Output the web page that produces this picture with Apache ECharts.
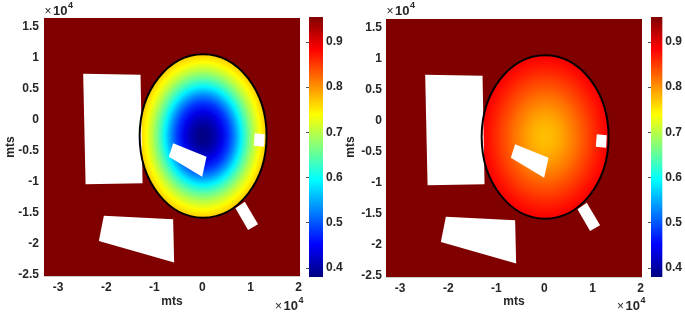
<!DOCTYPE html>
<html><head><meta charset="utf-8">
<script src="https://cdn.jsdelivr.net/npm/echarts@6/dist/echarts.min.js"></script>
<style>html,body{margin:0;padding:0;background:#fff}#c{width:685px;height:314px}</style>
</head><body><div id="c"></div>
<script>
// ---- data (metres) ----
const xLimits = [-32950, 20300];
const yLimits = [-25200, 16450];
const colorLimits = [0.38, 0.955];
const outsideValue = 0.96;
const circleCenter = [150, -2590];
const circleRadius = 13200;
const radialFraction = [0, 0.1, 0.2, 0.3, 0.4, 0.5, 0.6, 0.7, 0.8, 0.9, 1.0];
const leftFieldValues = [0.38, 0.39, 0.41, 0.44, 0.48, 0.53, 0.59, 0.65, 0.70, 0.74, 0.77];
const rightFieldValues = [0.775, 0.778, 0.785, 0.795, 0.808, 0.82, 0.835, 0.848, 0.862, 0.875, 0.888];
const holeA = [[-24800, 7440], [-12870, 7280], [-12450, -10230], [-24300, -10400]];
const holeB = [[-6090, -3770], [850, -5930], [-60, -9170], [-6990, -5930]];
const holeC = [[6880, -14280], [8810, -13210], [11580, -16860], [9500, -17790]];
const holeD = [[-20500, -15470], [-6090, -16050], [-5880, -23010], [-21540, -19560]];
const holeE = [[10890, -2150], [12970, -2310], [12830, -4320], [10690, -4160]];
const holes = [holeA, holeB, holeC, holeD, holeE];
const axisName = 'mts';

// ---- jet colormap ----
function jet(v) {
  const t = Math.min(1, Math.max(0, (v - colorLimits[0]) / (colorLimits[1] - colorLimits[0])));
  const c = k => Math.round(255 * Math.min(1, Math.max(0, 1.5 - Math.abs(4 * t - k))));
  return 'rgb(' + c(3) + ',' + c(2) + ',' + c(1) + ')';
}
const jetStops = [[0, '#000080'], [0.125, '#0000ff'], [0.375, '#00ffff'], [0.625, '#ffff00'], [0.875, '#ff0000'], [1, '#800000']];

const FONT = '"Liberation Sans", Arial, sans-serif';
const TXT = '#262626';
const chart = echarts.init(document.getElementById('c'));

const grids = [
  {left: 44, top: 18, width: 256, height: 258},
  {left: 386, top: 19, width: 256, height: 258},
  {left: 309, top: 17, width: 14, height: 260},
  {left: 651, top: 17, width: 13, height: 260}
];
const lbl = {fontFamily: FONT, fontWeight: 'bold', fontSize: 12, color: TXT};
const xAxes = [], yAxes = [];
for (let p = 0; p < 2; p++) {
  xAxes.push({type: 'value', gridIndex: p, min: xLimits[0], max: xLimits[1], splitNumber: 5,
    axisLine: {show: true, onZero: false, lineStyle: {color: '#c8c8c8'}}, axisTick: {show: false}, splitLine: {show: false},
    axisLabel: Object.assign({margin: 6, showMinLabel: false, showMaxLabel: false, formatter: v => String(+(v / 1e4).toFixed(1))}, lbl)});
  yAxes.push({type: 'value', gridIndex: p, min: yLimits[0], max: yLimits[1], splitNumber: 8,
    axisLine: {show: true, onZero: false, lineStyle: {color: '#c8c8c8'}}, axisTick: {show: false}, splitLine: {show: false},
    axisLabel: Object.assign({margin: p ? 4 : 5, showMinLabel: false, showMaxLabel: false, formatter: v => String(+(v / 1e4).toFixed(1))}, lbl)});
}
for (let p = 0; p < 2; p++) {
  xAxes.push({type: 'value', gridIndex: 2 + p, min: 0, max: 1, show: false});
  yAxes.push({type: 'value', gridIndex: 2 + p, position: 'right', min: colorLimits[0], max: colorLimits[1], splitNumber: 6,
    axisLine: {show: false}, splitLine: {show: false},
    axisTick: {show: true, inside: true, length: 3, lineStyle: {color: '#555'}},
    axisLabel: Object.assign({margin: 3, showMinLabel: false, showMaxLabel: false, formatter: v => v.toFixed(1)}, lbl)});
}

const series = [];
[leftFieldValues, rightFieldValues].forEach((profile, p) => {
  series.push({type: 'custom', xAxisIndex: p, yAxisIndex: p, z: 1, silent: true,
    data: [[xLimits[0], xLimits[1], yLimits[0], yLimits[1], outsideValue]],
    renderItem: (params, api) => {
      const a = api.coord([api.value(0), api.value(3)]);
      const b = api.coord([api.value(1), api.value(2)]);
      return {type: 'rect', shape: {x: a[0], y: a[1], width: b[0] - a[0], height: b[1] - a[1]}, style: {fill: jet(api.value(4))}};
    }});
  series.push({type: 'custom', xAxisIndex: p, yAxisIndex: p, z: 2, silent: true,
    data: [[circleCenter[0], circleCenter[1], circleRadius]],
    renderItem: (params, api) => {
      const c = api.coord([api.value(0), api.value(1)]);
      const s = api.size([api.value(2), api.value(2)]);
      const stops = radialFraction.map((f, i) => ({offset: f, color: jet(profile[i])}));
      return {type: 'circle', x: c[0], y: c[1], scaleY: s[1] / s[0], shape: {cx: 0, cy: 0, r: s[0]},
        style: {fill: new echarts.graphic.RadialGradient(0.5, 0.5, 0.5, stops)}};
    }});
  series.push({type: 'custom', xAxisIndex: p, yAxisIndex: p, z: 3, silent: true,
    data: holes.map((h, i) => [i]),
    renderItem: (params, api) => {
      const pts = holes[params.dataIndex].map(q => api.coord(q));
      return {type: 'polygon', shape: {points: pts}, style: {fill: '#ffffff'}};
    }});
  series.push({type: 'custom', xAxisIndex: p, yAxisIndex: p, z: 4, silent: true,
    data: [[circleCenter[0], circleCenter[1], circleRadius]],
    renderItem: (params, api) => {
      const c = api.coord([api.value(0), api.value(1)]);
      const s = api.size([api.value(2), api.value(2)]);
      return {type: 'ellipse', shape: {cx: c[0], cy: c[1], rx: s[0], ry: s[1]}, style: {fill: 'none', stroke: '#000', lineWidth: 2}};
    }});
  series.push({type: 'custom', xAxisIndex: 2 + p, yAxisIndex: 2 + p, z: 1, silent: true,
    data: [[0, 1, colorLimits[0], colorLimits[1]]],
    renderItem: (params, api) => {
      const a = api.coord([api.value(0), api.value(3)]);
      const b = api.coord([api.value(1), api.value(2)]);
      return {type: 'rect', shape: {x: a[0], y: a[1], width: b[0] - a[0], height: b[1] - a[1]},
        style: {fill: new echarts.graphic.LinearGradient(0, 1, 0, 0, jetStops.map(s => ({offset: s[0], color: s[1]})))}};
    }});
});

function t(x, y, text, size, opts) {
  return Object.assign({type: 'text', x: x, y: y, silent: true,
    style: {text: text, fontFamily: FONT, fontWeight: 'bold', fontSize: size, fill: TXT, align: 'left', verticalAlign: 'middle'}}, opts || {});
}
function expo(x, y) {
  return [t(x, y, '×', 12, {style: {text: '×', fontFamily: FONT, fontSize: 12, fill: TXT, align: 'left', verticalAlign: 'middle'}}),
          t(x + 8.5, y, '10', 13), t(x + 23.5, y - 6, '4', 9)];
}
const graphics = [
  t(11, 147, axisName, 12, {rotation: Math.PI / 2, style: {text: axisName, fontFamily: FONT, fontWeight: 'bold', fontSize: 12, fill: TXT, align: 'center', verticalAlign: 'middle'}}),
  t(351, 147, axisName, 12, {rotation: Math.PI / 2, style: {text: axisName, fontFamily: FONT, fontWeight: 'bold', fontSize: 12, fill: TXT, align: 'center', verticalAlign: 'middle'}}),
  t(172, 302, axisName, 12, {style: {text: axisName, fontFamily: FONT, fontWeight: 'bold', fontSize: 12, fill: TXT, align: 'center', verticalAlign: 'middle'}}),
  t(514, 302, axisName, 12, {style: {text: axisName, fontFamily: FONT, fontWeight: 'bold', fontSize: 12, fill: TXT, align: 'center', verticalAlign: 'middle'}})
].concat(expo(44.5, 11.5), expo(386.5, 11.5), expo(275, 306.5), expo(617, 306.5));

chart.setOption({
  animation: false,
  grid: grids,
  xAxis: xAxes,
  yAxis: yAxes,
  series: series,
  graphic: graphics
});
</script></body></html>
